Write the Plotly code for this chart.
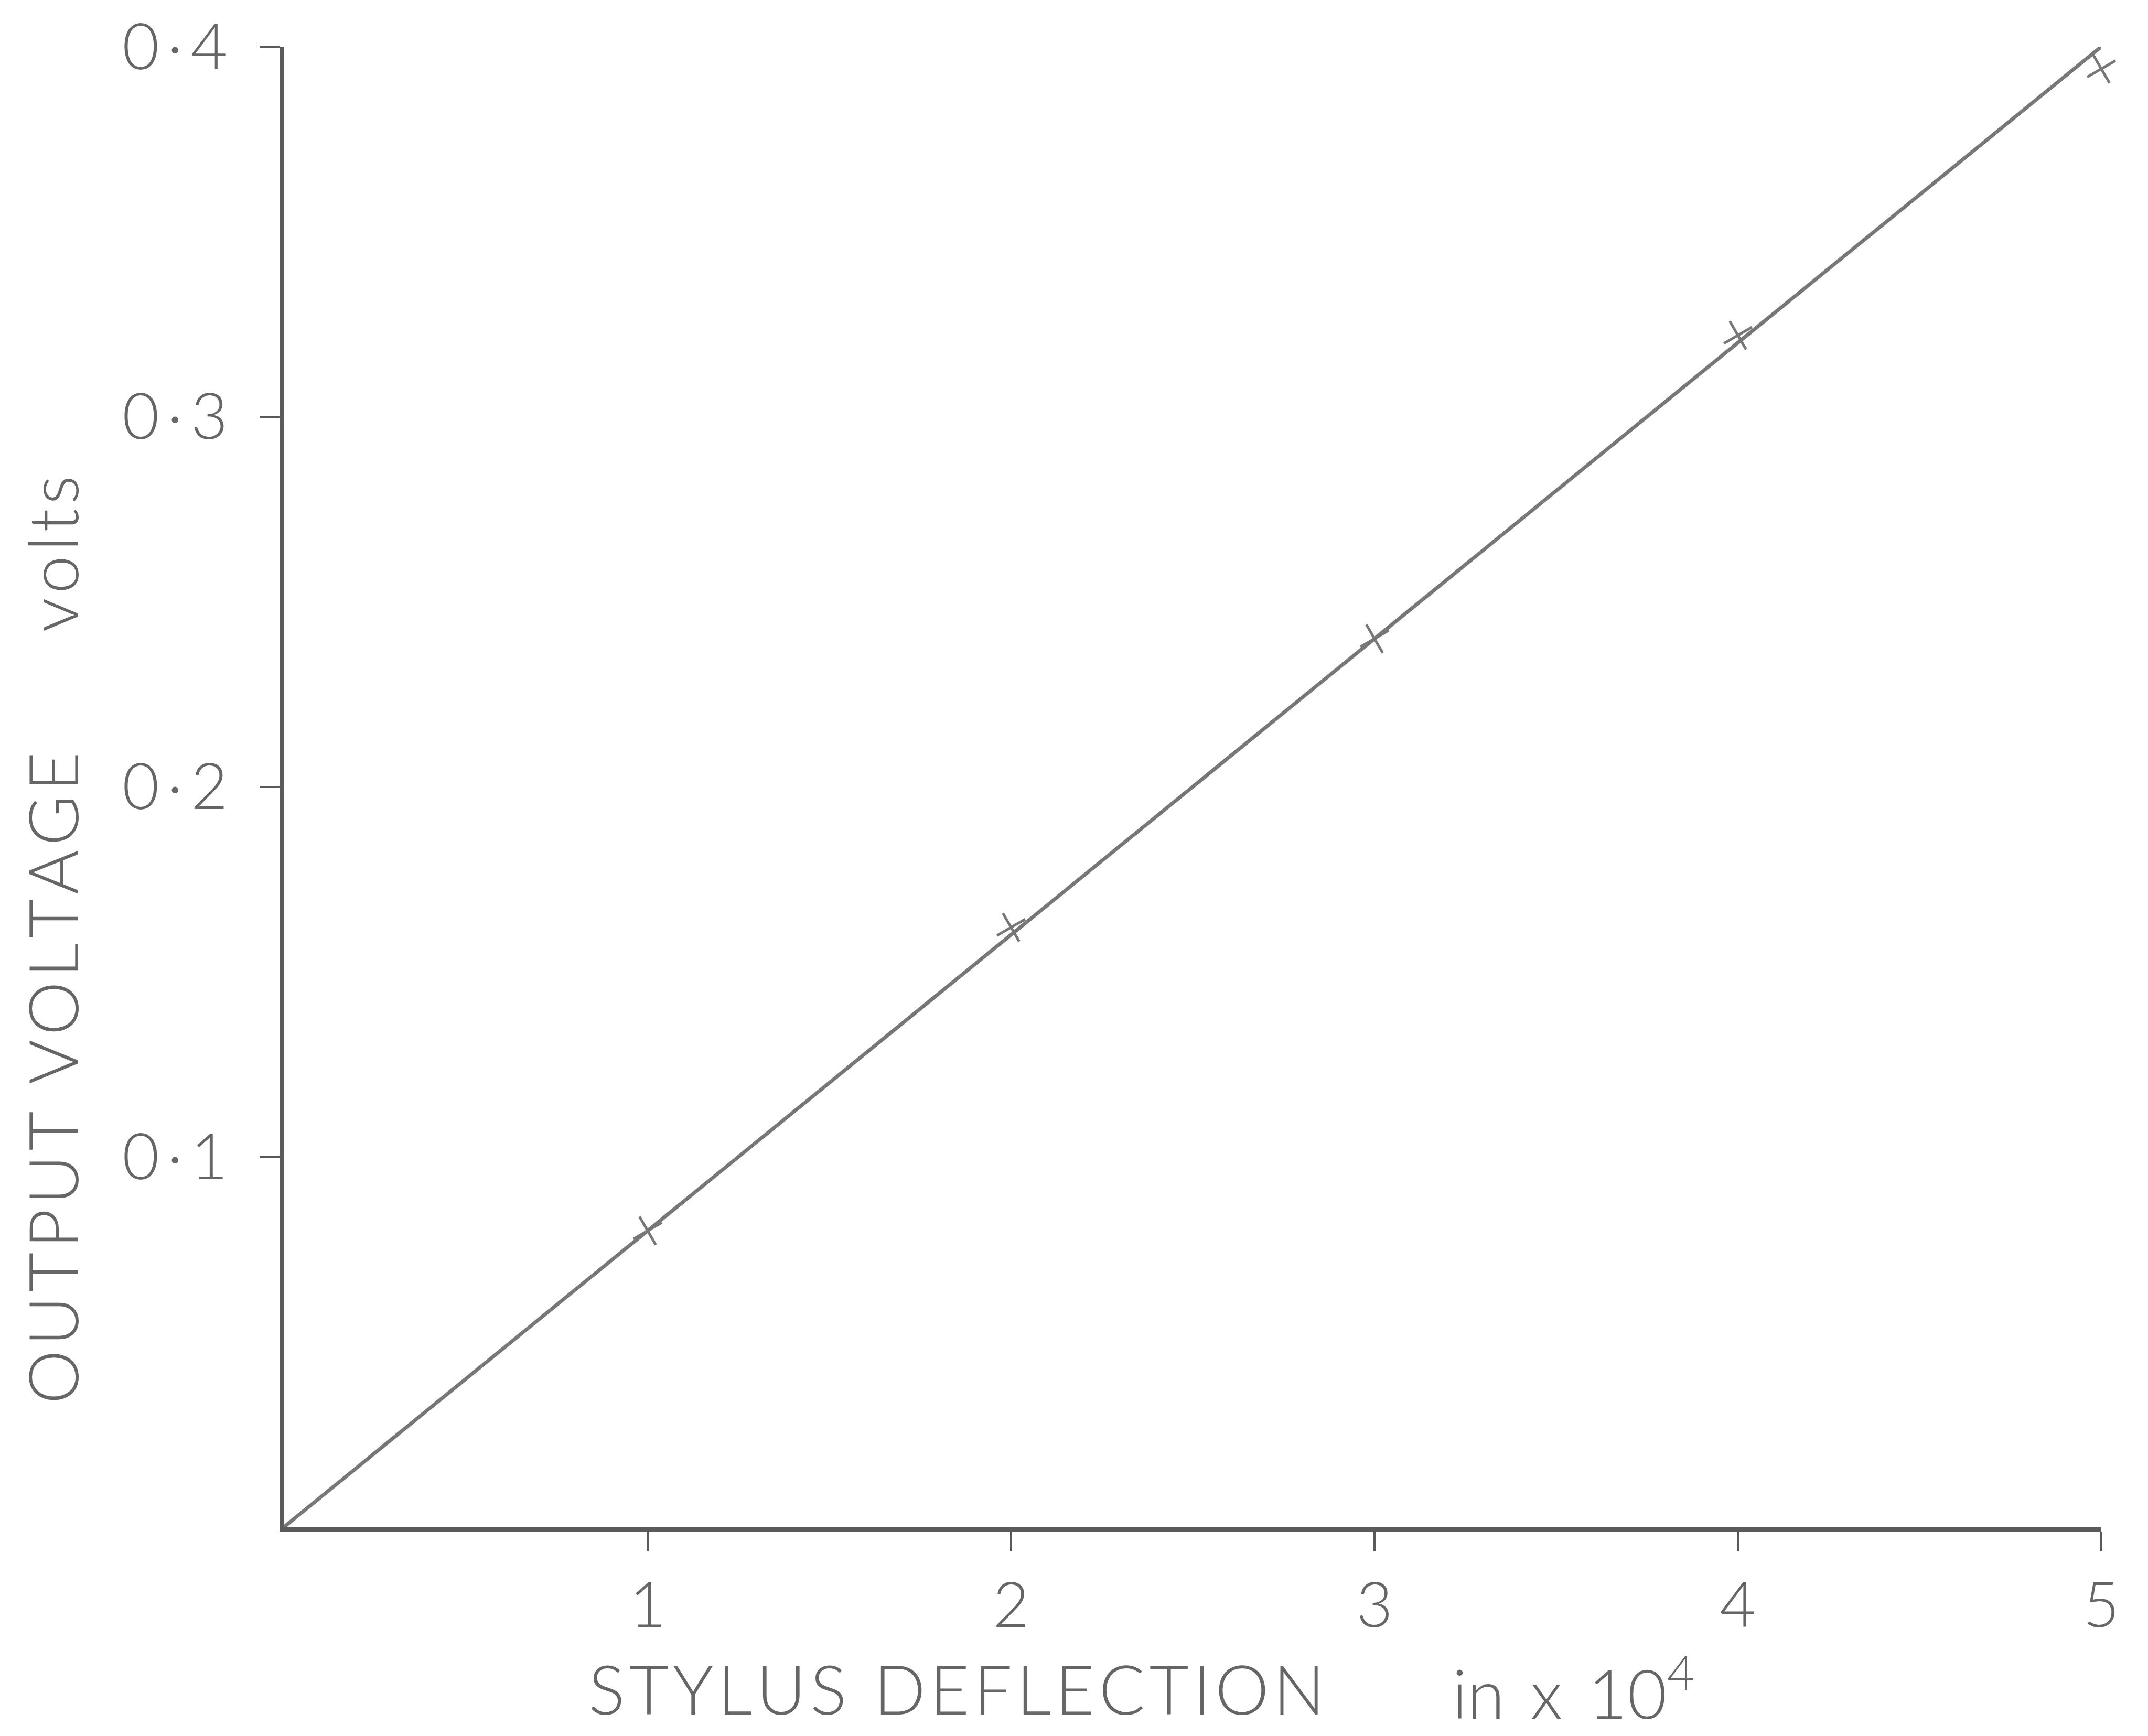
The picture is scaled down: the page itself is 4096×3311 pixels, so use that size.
import plotly.graph_objects as go

# Data
deflection = [1, 2, 3, 4, 5]            # stylus deflection, in x 10^4
voltage = [0.080, 0.162, 0.240, 0.322, 0.394]  # output voltage, volts
fit_x = [0, 5]
fit_y = [0.0, 0.40]

x_tickvals = [1, 2, 3, 4, 5]
x_ticktext = ["1", "2", "3", "4", "5"]
y_tickvals = [0.1, 0.2, 0.3, 0.4]
y_ticktext = ["0\u2009·\u20091", "0\u2009·\u20092", "0\u2009·\u20093", "0\u2009·\u20094"]

FONT = "Lato"
TXT = "#666666"
AX = "#5a5a5a"
LINE = "#777777"

def spaced(s):
    return "\u200a".join(list(s))

fig = go.Figure()
fig.add_trace(go.Scatter(x=fit_x, y=fit_y, mode="lines",
                         line=dict(color=LINE, width=7), cliponaxis=False,
                         showlegend=False, hoverinfo="skip"))
fig.add_trace(go.Scatter(x=deflection, y=voltage, mode="markers",
                         marker=dict(symbol="x-thin", size=44, angle=15,
                                     line=dict(color=LINE, width=5)),
                         cliponaxis=False, showlegend=False))

W, H = 4096, 3311
L, R, T, B = 542, 89, 70, 399
fig.update_layout(
    width=W, height=H,
    margin=dict(l=L, r=R, t=T, b=B, pad=0),
    paper_bgcolor="white", plot_bgcolor="white",
    font=dict(family=FONT, color=TXT, size=110),
    xaxis=dict(range=[0, 5], tickvals=x_tickvals, ticktext=x_ticktext,
               showgrid=False, zeroline=False, showline=True,
               linecolor=AX, linewidth=9, ticks="outside", ticklen=38,
               tickwidth=4, tickcolor=AX, ticklabelstandoff=0,
               ticklabeloverflow="allow",
               tickfont=dict(family=FONT, size=120, color=TXT, weight=300)),
    yaxis=dict(range=[0, 0.4], tickvals=y_tickvals, ticktext=y_ticktext,
               showgrid=False, zeroline=False, showline=True,
               linecolor=AX, linewidth=9, ticks="outside", ticklen=38,
               tickwidth=4, tickcolor=AX, ticklabelstandoff=36,
               ticklabeloverflow="allow",
               tickfont=dict(family=FONT, size=122, color=TXT, weight=300)),
)

pw = W - L - R
ph = H - T - B
fig.add_annotation(text=spaced("STYLUS DEFLECTION"), xref="paper", yref="paper",
                   x=(1824 - L) / pw, y=(T + ph - 3222) / ph, showarrow=False,
                   xanchor="center", yanchor="middle",
                   font=dict(family=FONT, size=130, color=TXT, weight=300))
fig.add_annotation(text="in\u2009\u2009\u2009x\u2009\u2009\u200910<sup>4</sup>", xref="paper", yref="paper",
                   x=(3000 - L) / pw, y=(T + ph - 3222) / ph, showarrow=False,
                   xanchor="center", yanchor="middle",
                   font=dict(family=FONT, size=130, color=TXT, weight=300))
fig.add_annotation(text=spaced("OUTPUT VOLTAGE"), xref="paper", yref="paper",
                   x=(99 - L) / pw, y=(T + ph - 2050) / ph, showarrow=False,
                   textangle=-90, xanchor="center", yanchor="middle",
                   font=dict(family=FONT, size=130, color=TXT, weight=300))
fig.add_annotation(text=spaced("volts"), xref="paper", yref="paper",
                   x=(99 - L) / pw, y=(T + ph - 1044) / ph, showarrow=False,
                   textangle=-90, xanchor="center", yanchor="middle",
                   font=dict(family=FONT, size=130, color=TXT, weight=300))

fig.write_html("out.html")
